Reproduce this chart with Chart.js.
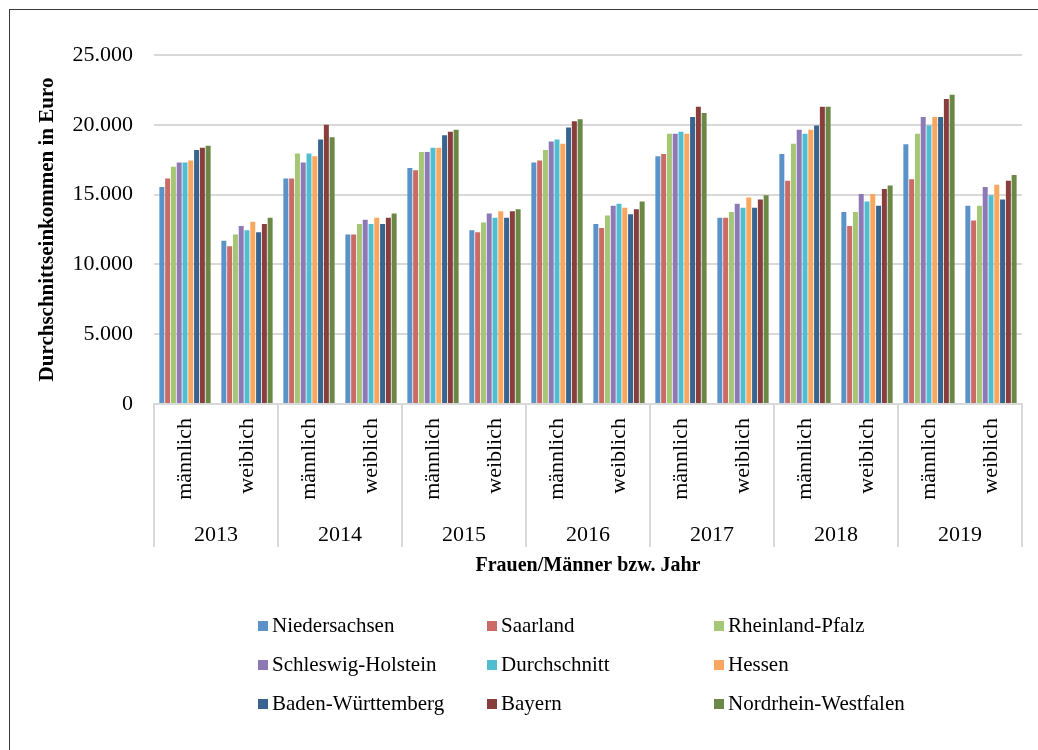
<!DOCTYPE html>
<html>
<head>
<meta charset="utf-8">
<script src="https://cdn.jsdelivr.net/npm/chart.js@4/dist/chart.umd.min.js"></script>
<style>
  html, body { margin: 0; padding: 0; background: #fff; overflow: hidden; }
  #wrap { position: relative; width: 1038px; height: 750px; }
  #frame { position: absolute; left: 9px; top: 9px; width: 1100px; height: 800px;
           border-left: 1px solid #3a3a3a; border-top: 1px solid #3a3a3a; pointer-events: none; }
  #c { position: absolute; left: 0; top: 0; }
  #legend { position: absolute; left: 258px; top: 606px; display: grid;
            grid-template-columns: 229px 227px 227px; grid-auto-rows: 39px;
            font-family: "Liberation Serif", serif; font-size: 21px; color: #000; }
  .li { display: flex; align-items: center; white-space: nowrap; }
  .sw { width: 10px; height: 10px; margin-right: 4px; flex: none; }
</style>
</head>
<body>
<div id="wrap">
  <canvas id="c" width="1038" height="750"></canvas>
  <div id="legend"></div>
  <div id="frame"></div>
</div>
<script>
// ---- data ----
const years = ['2013', '2014', '2015', '2016', '2017', '2018', '2019'];
const genders = ['männlich', 'weiblich'];
const seriesNames = ['Niedersachsen', 'Saarland', 'Rheinland-Pfalz', 'Schleswig-Holstein',
  'Durchschnitt', 'Hessen', 'Baden-Württemberg', 'Bayern', 'Nordrhein-Westfalen'];
const yTicks = [0, 5000, 10000, 15000, 20000, 25000];

// values per category: 2013 m, 2013 w, 2014 m, 2014 w, ...
const niedersachsen     = [15550, 11700, 16150, 12150, 16900, 12450, 17300, 12900, 17750, 13350, 17900, 13750, 18600, 14200];
const saarland          = [16150, 11300, 16150, 12150, 16750, 12300, 17450, 12600, 17900, 13350, 16000, 12750, 16100, 13150];
const rheinlandPfalz    = [17000, 12150, 17950, 12900, 18050, 13000, 18200, 13500, 19350, 13750, 18650, 13750, 19350, 14200];
const schleswigHolstein = [17300, 12750, 17300, 13200, 18050, 13650, 18800, 14200, 19350, 14350, 19650, 15050, 20550, 15550];
const durchschnitt      = [17300, 12450, 17950, 12900, 18350, 13350, 18950, 14350, 19500, 14050, 19350, 14500, 19950, 14950];
const hessen            = [17450, 13050, 17750, 13350, 18350, 13800, 18650, 14050, 19350, 14800, 19650, 15050, 20550, 15700];
const badenWuerttemberg = [18200, 12300, 18950, 12900, 19250, 13350, 19800, 13600, 20550, 14050, 19950, 14200, 20550, 14650];
const bayern            = [18350, 12900, 20000, 13350, 19500, 13800, 20250, 13950, 21300, 14650, 21300, 15400, 21850, 16000];
const nordrheinWestfalen= [18500, 13350, 19100, 13650, 19650, 13950, 20400, 14500, 20850, 14950, 21300, 15650, 22150, 16400];

const seriesValues = [niedersachsen, saarland, rheinlandPfalz, schleswigHolstein, durchschnitt,
  hessen, badenWuerttemberg, bayern, nordrheinWestfalen];
const seriesColors = ['#5b93c9', '#cb6b66', '#a4c675', '#8e79b7', '#51bdd1', '#f9a65f', '#376590', '#873e3c', '#6c8846'];

// ---- build ----
const categories = [];
years.forEach(() => genders.forEach(g => categories.push(g)));

const FONT = '"Liberation Serif", serif';
const GRID = '#d9d9d9';

function fmt(v) {
  return String(v).replace(/\B(?=(\d{3})+(?!\d))/g, '.');
}

const groupPlugin = {
  id: 'groups',
  afterDraw(chart) {
    const xs = chart.scales.x;
    const ctx = chart.ctx;
    const top = chart.chartArea.bottom;
    const lineBottom = 547;
    const n = genders.length;
    ctx.save();
    ctx.strokeStyle = GRID;
    ctx.lineWidth = 2;
    const bounds = [];
    for (let g = 0; g <= years.length; g++) {
      let x;
      if (g === 0) x = xs.left;
      else if (g === years.length) x = xs.right;
      else x = (xs.getPixelForValue(g * n - 1) + xs.getPixelForValue(g * n)) / 2;
      bounds.push(x);
      ctx.beginPath();
      ctx.moveTo(x, top);
      ctx.lineTo(x, lineBottom);
      ctx.stroke();
    }
    ctx.fillStyle = '#000';
    ctx.font = '22px ' + FONT;
    ctx.textAlign = 'center';
    ctx.textBaseline = 'middle';
    years.forEach((y, i) => {
      ctx.fillText(y, (bounds[i] + bounds[i + 1]) / 2, 535);
    });
    ctx.restore();
  }
};

const chart = new Chart(document.getElementById('c'), {
  type: 'bar',
  data: {
    labels: categories,
    datasets: seriesNames.map((name, i) => ({
      label: name,
      data: seriesValues[i],
      backgroundColor: seriesColors[i],
      borderWidth: 0,
      categoryPercentage: 0.84,
      barPercentage: 0.86
    }))
  },
  options: {
    responsive: false,
    animation: false,
    devicePixelRatio: 1,
    layout: { padding: { left: 35, top: 55, right: 16, bottom: 172 } },
    plugins: {
      legend: { display: false },
      tooltip: { enabled: false }
    },
    scales: {
      x: {
        type: 'category',
        offset: true,
        grid: { display: false, drawTicks: false },
        border: { display: true, color: GRID, width: 2 },
        ticks: {
          color: '#000',
          font: { family: FONT, size: 22 },
          minRotation: 90, maxRotation: 90,
          padding: 14,
          autoSkip: false
        },
        title: {
          display: true,
          text: 'Frauen/Männer bzw. Jahr',
          color: '#000',
          font: { family: FONT, size: 20, weight: 'bold' },
          padding: 0
        },
        afterFit(scale) { scale.height = 174; }
      },
      y: {
        min: 0, max: 25000,
        afterBuildTicks(scale) { scale.ticks = yTicks.map(v => ({ value: v })); },
        grid: { color: GRID, lineWidth: 2, drawTicks: false },
        border: { display: false },
        ticks: {
          color: '#000',
          font: { family: FONT, size: 22 },
          padding: 21,
          callback: v => fmt(v)
        },
        title: {
          display: true,
          text: 'Durchschnittseinkommen in Euro',
          color: '#000',
          font: { family: FONT, size: 21, weight: 'bold' },
          padding: 0
        },
        afterFit(scale) { scale.width = 119; }
      }
    }
  },
  plugins: [groupPlugin]
});

// legend (HTML, generated from the datasets)
const lg = document.getElementById('legend');
chart.data.datasets.forEach(ds => {
  const item = document.createElement('div');
  item.className = 'li';
  const sw = document.createElement('span');
  sw.className = 'sw';
  sw.style.background = ds.backgroundColor;
  const tx = document.createElement('span');
  tx.textContent = ds.label;
  item.appendChild(sw);
  item.appendChild(tx);
  lg.appendChild(item);
});
</script>
</body>
</html>
